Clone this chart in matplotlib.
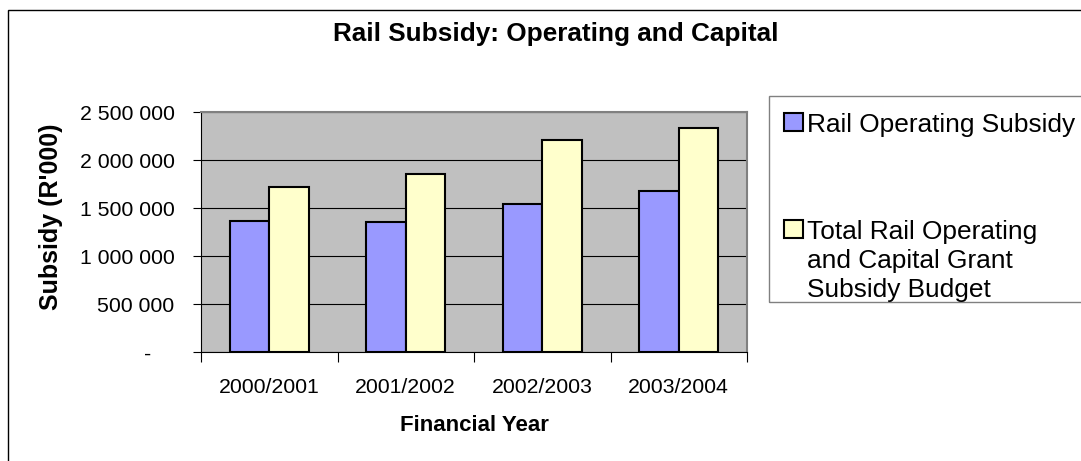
import numpy as np
import matplotlib
matplotlib.use("Agg")
import matplotlib.pyplot as plt
from matplotlib.patches import Rectangle
from matplotlib.ticker import FuncFormatter, MultipleLocator

# data (R'000)
years = ["2000/2001", "2001/2002", "2002/2003", "2003/2004"]
operating = [1365000, 1357000, 1538000, 1677000]
total_budget = [1719000, 1851000, 2205000, 2337000]
series_names = ["Rail Operating Subsidy",
                "Total Rail Operating\nand Capital Grant\nSubsidy Budget"]
series_colors = ["#9999FF", "#FFFFCC"]

W, H = 1081, 461
plt.rcParams['font.family'] = ['Liberation Sans', 'DejaVu Sans']

def fx(px):
    return px / W

def fy(py):
    return 1 - py / H

fig = plt.figure(figsize=(W / 100, H / 100), dpi=100)
fig.patch.set_facecolor("white")

# plot area
ax = fig.add_axes([fx(201), fy(352), fx(747) - fx(201), fy(112) - fy(352)])
ax.set_facecolor("#C0C0C0")

x = np.arange(len(years))
bw = 0.288
for vals, col, off in zip([operating, total_budget], series_colors, [-bw / 2, bw / 2]):
    ax.bar(x + off, vals, width=bw, color=col, edgecolor="black", linewidth=1.5, zorder=3)

ax.set_xlim(-0.5, len(years) - 0.5)
ax.set_ylim(0, 2500000)
ax.yaxis.set_major_locator(MultipleLocator(500000))
ax.yaxis.grid(True, color="black", linewidth=0.8, zorder=1)
ax.set_axisbelow(True)

def yfmt(v, pos):
    if v == 0:
        return "-    "
    return f"{v:,.0f}".replace(",", " ")

ax.yaxis.set_major_formatter(FuncFormatter(yfmt))
ax.tick_params(axis="y", direction="out", length=6, width=0.8, pad=13, labelsize=15.3)

ax.set_xticks(x)
ax.set_xticklabels(years)
ax.set_xticks(np.arange(-0.5, len(years)), minor=True)
ax.tick_params(axis="x", which="major", length=0, pad=19, labelsize=15.3)
ax.tick_params(axis="x", which="minor", direction="out", length=7, width=0.8)

for s in ["left", "bottom"]:
    ax.spines[s].set_color("black")
    ax.spines[s].set_linewidth(0.8)
for s in ["top", "right"]:
    ax.spines[s].set_color("#808080")
    ax.spines[s].set_linewidth(1.5)

# titles
fig.text(fx(556), fy(34), "Rail Subsidy: Operating and Capital", ha="center", va="center",
         fontsize=18.8, fontweight="bold")
fig.text(fx(51), fy(217), "Subsidy (R'000)", ha="center", va="center", rotation=90,
         fontsize=18, fontweight="bold")
fig.text(fx(474), fy(425), "Financial Year", ha="center", va="center",
         fontsize=16, fontweight="bold")

# chart border
fig.add_artist(Rectangle((fx(8), -0.1), 1.0, fy(10) + 0.1, transform=fig.transFigure,
                         fill=False, edgecolor="black", linewidth=1))

# legend box
fig.add_artist(Rectangle((fx(769), fy(302)), 1.0, fy(96) - fy(302), transform=fig.transFigure,
                         fill=False, edgecolor="#808080", linewidth=1))

key_tops = [113, 220]
for name, col, top in zip(series_names, series_colors, key_tops):
    fig.add_artist(Rectangle((fx(784), fy(top + 18)), fx(19), fy(0) - fy(18),
                             transform=fig.transFigure, facecolor=col,
                             edgecolor="black", linewidth=1.5))
    for i, line in enumerate(name.split("\n")):
        fig.text(fx(807), fy(top + 19 + 29 * i), line, ha="left", va="baseline",
                 fontsize=18.9)

fig.savefig("out.png", dpi=100)
